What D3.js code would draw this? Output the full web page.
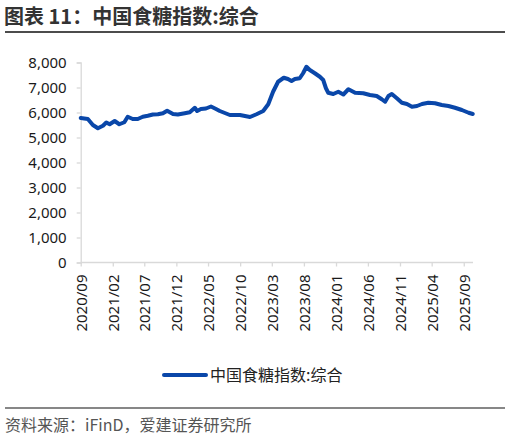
<!DOCTYPE html>
<html>
<head>
<meta charset="utf-8">
<script src="https://cdn.jsdelivr.net/npm/d3@7/dist/d3.min.js"></script>
<style>
  html, body { margin: 0; padding: 0; background: #fff; }
  svg { display: block; }
</style>
</head>
<body>
<svg id="chart" width="510" height="439"></svg>
<script>
// ---- data ----
const titleText = "图表 11：中国食糖指数:综合";
const seriesName = "中国食糖指数:综合";
const sourceText = "资料来源：iFinD，爱建证券研究所";

const dates = [
  "2020-09-01","2020-10-05","2020-10-29","2020-11-22","2020-12-16","2021-01-01","2021-01-17",
  "2021-02-10","2021-03-04","2021-03-28","2021-04-13","2021-05-07","2021-05-31","2021-06-24",
  "2021-07-18","2021-08-11","2021-09-04","2021-09-28","2021-10-18","2021-11-15","2021-12-08",
  "2022-01-10","2022-02-03","2022-02-27","2022-03-10","2022-03-28","2022-04-21","2022-05-15",
  "2022-06-08","2022-06-26","2022-08-13","2022-09-30","2022-10-24","2022-11-17","2022-12-18",
  "2023-01-19","2023-02-12","2023-03-07","2023-03-31","2023-04-27","2023-05-17","2023-06-03",
  "2023-06-19","2023-07-12","2023-07-28","2023-08-13","2023-08-29","2023-09-22","2023-10-16",
  "2023-11-01","2023-11-14","2023-11-25","2023-12-19","2024-01-12","2024-02-05","2024-02-29",
  "2024-03-07","2024-04-01","2024-05-10","2024-06-11","2024-07-13","2024-08-06","2024-08-22",
  "2024-09-07","2024-09-23","2024-10-17","2024-11-10","2024-12-04","2024-12-28","2025-01-21",
  "2025-02-14","2025-03-16","2025-04-17","2025-05-19","2025-06-20","2025-07-21","2025-08-23",
  "2025-09-24","2025-10-14"
];
const values = [
  5780,5740,5500,5370,5470,5600,5530,
  5660,5530,5610,5830,5740,5740,5830,
  5870,5920,5930,5970,6070,5940,5920,
  5970,6010,6190,6060,6140,6160,6240,
  6140,6060,5900,5900,5860,5820,5930,
  6060,6330,6830,7230,7390,7340,7260,
  7340,7370,7570,7830,7700,7570,7430,
  7300,6970,6790,6740,6830,6720,6930,
  6900,6790,6770,6700,6660,6530,6430,
  6660,6740,6570,6390,6340,6230,6260,
  6340,6390,6370,6300,6260,6190,6100,
  5990,5940
];
const xTickLabels = ["2020/09","2021/02","2021/07","2021/12","2022/05","2022/10","2023/03",
                     "2023/08","2024/01","2024/06","2024/11","2025/04","2025/09"];
const yTicks = [0,1000,2000,3000,4000,5000,6000,7000,8000];

// ---- drawing ----
const svg = d3.select("#chart");
const parse = d3.timeParse("%Y-%m-%d");
const parseTick = d3.timeParse("%Y/%m");
const data = dates.map((d, i) => ({ date: parse(d), value: values[i] }));

const plotLeft = 80.7, plotRight = 473, plotTop = 62.5, plotBottom = 262.5;
const x = d3.scaleTime()
  .domain([parse("2020-09-01"), parse("2025-10-15")])
  .range([plotLeft, plotRight]);
const y = d3.scaleLinear().domain([0, 8000]).range([plotBottom, plotTop]);

const axisColor = "#d9d9d9";
const labelFont = "'Noto Sans', 'DejaVu Sans', sans-serif";

// title
svg.append("text")
  .attr("x", 4).attr("y", 23.5)
  .attr("font-family", "'Noto Sans CJK SC', sans-serif")
  .attr("font-weight", "bold")
  .attr("font-size", 20)
  .attr("fill", "#333")
  .text(titleText);
svg.append("line")
  .attr("x1", 5).attr("x2", 505).attr("y1", 32).attr("y2", 32)
  .attr("stroke", "#111").attr("stroke-width", 1.5);

// y axis
const yAxis = d3.axisLeft(y).tickValues(yTicks).tickSize(4).tickPadding(10)
  .tickFormat(d3.format(","));
const gy = svg.append("g").attr("transform", `translate(${plotLeft},0)`).call(yAxis);
gy.select(".domain").attr("stroke", axisColor).attr("stroke-width", 1.3);
gy.selectAll(".tick line").attr("stroke", axisColor).attr("stroke-width", 1.3);
gy.selectAll(".tick text")
  .attr("font-family", labelFont).attr("font-size", 15).attr("fill", "#1a1a1a");

// x axis
const xAxis = d3.axisBottom(x)
  .tickValues(xTickLabels.map(s => parseTick(s)))
  .tickSize(4).tickPadding(0)
  .tickFormat(d3.timeFormat("%Y/%m"));
const gx = svg.append("g").attr("transform", `translate(0,${plotBottom})`).call(xAxis);
gx.select(".domain").attr("stroke", axisColor).attr("stroke-width", 1.3)
  .attr("d", `M${plotLeft},0H${plotRight}`);
gx.selectAll(".tick line").attr("stroke", axisColor).attr("stroke-width", 1.3);
gx.selectAll(".tick text")
  .attr("font-family", labelFont).attr("font-size", 15).attr("fill", "#1a1a1a")
  .attr("text-anchor", "end")
  .attr("dy", null)
  .attr("transform", "translate(5.5,12) rotate(-90)")
  .attr("x", 0).attr("y", 0);

// line
const line = d3.line().x(d => x(d.date)).y(d => y(d.value)).curve(d3.curveLinear);
svg.append("path")
  .datum(data)
  .attr("fill", "none")
  .attr("stroke", "#0a47a9")
  .attr("stroke-width", 4)
  .attr("stroke-linejoin", "round")
  .attr("stroke-linecap", "round")
  .attr("d", line);

// legend
svg.append("line")
  .attr("x1", 164).attr("x2", 206).attr("y1", 375).attr("y2", 375)
  .attr("stroke", "#0a47a9").attr("stroke-width", 4).attr("stroke-linecap", "round");
svg.append("text")
  .attr("x", 210).attr("y", 381)
  .attr("font-family", "'Noto Sans CJK SC', sans-serif")
  .attr("font-size", 16)
  .attr("fill", "#222")
  .text(seriesName);

// bottom rule & source
svg.append("line")
  .attr("x1", 5).attr("x2", 505).attr("y1", 408).attr("y2", 408)
  .attr("stroke", "#111").attr("stroke-width", 1.2);
svg.append("text")
  .attr("x", 5).attr("y", 431)
  .attr("font-family", "'Noto Sans CJK SC', sans-serif")
  .attr("font-size", 16)
  .attr("fill", "#555")
  .text(sourceText);
</script>
</body>
</html>
